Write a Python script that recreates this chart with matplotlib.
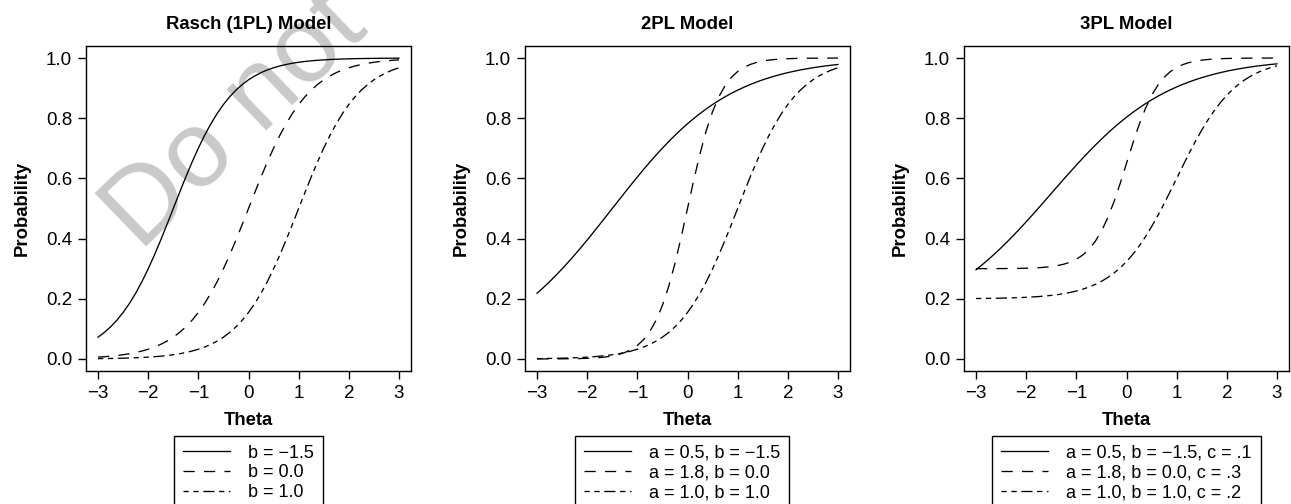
import matplotlib.pyplot as plt
from matplotlib.lines import Line2D

plt.rcParams['font.family'] = ['Liberation Sans', 'DejaVu Sans']
plt.rcParams['font.size'] = 13

# ability grid (theta) and curve values
theta = [-3.0, -2.875, -2.75, -2.625, -2.5, -2.375, -2.25, -2.125, -2.0, -1.875, -1.75, -1.625,
         -1.5, -1.375, -1.25, -1.125, -1.0, -0.875, -0.75, -0.625, -0.5, -0.375, -0.25, -0.125,
         0.0, 0.125, 0.25, 0.375, 0.5, 0.625, 0.75, 0.875, 1.0, 1.125, 1.25, 1.375,
         1.5, 1.625, 1.75, 1.875, 2.0, 2.125, 2.25, 2.375, 2.5, 2.625, 2.75, 2.875, 3.0]

# Rasch (1PL)
rasch_b_m15 = [0.0724, 0.0881, 0.1067, 0.1287, 0.1545, 0.1843, 0.2184, 0.2568, 0.2994, 0.3458,
               0.3953, 0.4471, 0.5000, 0.5529, 0.6047, 0.6542, 0.7006, 0.7432, 0.7816, 0.8157,
               0.8455, 0.8713, 0.8933, 0.9119, 0.9276, 0.9406, 0.9515, 0.9604, 0.9677, 0.9737,
               0.9786, 0.9827, 0.9859, 0.9886, 0.9908, 0.9925, 0.9939, 0.9951, 0.9960, 0.9968,
               0.9974, 0.9979, 0.9983, 0.9986, 0.9989, 0.9991, 0.9993, 0.9994, 0.9995]
rasch_b_0 = [0.0061, 0.0075, 0.0092, 0.0114, 0.0141, 0.0173, 0.0214, 0.0263, 0.0323, 0.0396,
             0.0485, 0.0594, 0.0724, 0.0881, 0.1067, 0.1287, 0.1545, 0.1843, 0.2184, 0.2568,
             0.2994, 0.3458, 0.3953, 0.4471, 0.5000, 0.5529, 0.6047, 0.6542, 0.7006, 0.7432,
             0.7816, 0.8157, 0.8455, 0.8713, 0.8933, 0.9119, 0.9276, 0.9406, 0.9515, 0.9604,
             0.9677, 0.9737, 0.9786, 0.9827, 0.9859, 0.9886, 0.9908, 0.9925, 0.9939]
rasch_b_1 = [0.0011, 0.0014, 0.0017, 0.0021, 0.0026, 0.0032, 0.0040, 0.0049, 0.0061, 0.0075,
             0.0092, 0.0114, 0.0141, 0.0173, 0.0214, 0.0263, 0.0323, 0.0396, 0.0485, 0.0594,
             0.0724, 0.0881, 0.1067, 0.1287, 0.1545, 0.1843, 0.2184, 0.2568, 0.2994, 0.3458,
             0.3953, 0.4471, 0.5000, 0.5529, 0.6047, 0.6542, 0.7006, 0.7432, 0.7816, 0.8157,
             0.8455, 0.8713, 0.8933, 0.9119, 0.9276, 0.9406, 0.9515, 0.9604, 0.9677]

# 2PL
twopl_1 = [0.2184, 0.2371, 0.2568, 0.2776, 0.2994, 0.3222, 0.3458, 0.3702, 0.3953, 0.4210,
           0.4471, 0.4735, 0.5000, 0.5265, 0.5529, 0.5790, 0.6047, 0.6298, 0.6542, 0.6778,
           0.7006, 0.7224, 0.7432, 0.7629, 0.7816, 0.7991, 0.8157, 0.8311, 0.8455, 0.8589,
           0.8713, 0.8828, 0.8933, 0.9030, 0.9119, 0.9201, 0.9276, 0.9344, 0.9406, 0.9463,
           0.9515, 0.9561, 0.9604, 0.9642, 0.9677, 0.9709, 0.9737, 0.9763, 0.9786]
twopl_2 = [0.0001, 0.0002, 0.0002, 0.0003, 0.0005, 0.0007, 0.0010, 0.0015, 0.0022, 0.0032,
           0.0047, 0.0069, 0.0100, 0.0147, 0.0213, 0.0310, 0.0448, 0.0643, 0.0916, 0.1287,
           0.1780, 0.2410, 0.3176, 0.4055, 0.5000, 0.5945, 0.6824, 0.7590, 0.8220, 0.8713,
           0.9084, 0.9357, 0.9552, 0.9690, 0.9787, 0.9853, 0.9900, 0.9931, 0.9953, 0.9968,
           0.9978, 0.9985, 0.9990, 0.9993, 0.9995, 0.9997, 0.9998, 0.9998, 0.9999]
twopl_3 = [0.0011, 0.0014, 0.0017, 0.0021, 0.0026, 0.0032, 0.0040, 0.0049, 0.0061, 0.0075,
           0.0092, 0.0114, 0.0141, 0.0173, 0.0214, 0.0263, 0.0323, 0.0396, 0.0485, 0.0594,
           0.0724, 0.0881, 0.1067, 0.1287, 0.1545, 0.1843, 0.2184, 0.2568, 0.2994, 0.3458,
           0.3953, 0.4471, 0.5000, 0.5529, 0.6047, 0.6542, 0.7006, 0.7432, 0.7816, 0.8157,
           0.8455, 0.8713, 0.8933, 0.9119, 0.9276, 0.9406, 0.9515, 0.9604, 0.9677]

# 3PL
threepl_1 = [0.2966, 0.3134, 0.3311, 0.3498, 0.3695, 0.3900, 0.4112, 0.4332, 0.4558, 0.4789,
             0.5024, 0.5262, 0.5500, 0.5739, 0.5976, 0.6211, 0.6442, 0.6668, 0.6888, 0.7100,
             0.7305, 0.7502, 0.7689, 0.7866, 0.8034, 0.8192, 0.8341, 0.8480, 0.8610, 0.8730,
             0.8842, 0.8945, 0.9040, 0.9127, 0.9207, 0.9281, 0.9348, 0.9410, 0.9465, 0.9517,
             0.9564, 0.9605, 0.9644, 0.9678, 0.9709, 0.9738, 0.9763, 0.9787, 0.9807]
threepl_2 = [0.3001, 0.3001, 0.3001, 0.3002, 0.3004, 0.3005, 0.3007, 0.3011, 0.3015, 0.3022,
             0.3033, 0.3048, 0.3070, 0.3103, 0.3149, 0.3217, 0.3314, 0.3450, 0.3641, 0.3901,
             0.4246, 0.4687, 0.5223, 0.5839, 0.6500, 0.7162, 0.7777, 0.8313, 0.8754, 0.9099,
             0.9359, 0.9550, 0.9686, 0.9783, 0.9851, 0.9897, 0.9930, 0.9952, 0.9967, 0.9978,
             0.9985, 0.9990, 0.9993, 0.9995, 0.9997, 0.9998, 0.9999, 0.9999, 0.9999]
threepl_3 = [0.2009, 0.2011, 0.2014, 0.2017, 0.2021, 0.2026, 0.2032, 0.2039, 0.2049, 0.2060,
             0.2074, 0.2091, 0.2113, 0.2138, 0.2171, 0.2210, 0.2258, 0.2317, 0.2388, 0.2475,
             0.2579, 0.2705, 0.2854, 0.3030, 0.3236, 0.3474, 0.3747, 0.4054, 0.4395, 0.4766,
             0.5162, 0.5577, 0.6000, 0.6423, 0.6838, 0.7234, 0.7605, 0.7946, 0.8253, 0.8526,
             0.8764, 0.8970, 0.9146, 0.9295, 0.9421, 0.9525, 0.9612, 0.9683, 0.9742]

titles = ['Rasch (1PL) Model', '2PL Model', '3PL Model']
panel_curves = [
    [rasch_b_m15, rasch_b_0, rasch_b_1],
    [twopl_1, twopl_2, twopl_3],
    [threepl_1, threepl_2, threepl_3],
]
panel_labels = [
    ['b = \u22121.5', 'b = 0.0', 'b = 1.0'],
    ['a = 0.5, b = \u22121.5', 'a = 1.8, b = 0.0', 'a = 1.0, b = 1.0'],
    ['a = 0.5, b = \u22121.5, c = .1', 'a = 1.8, b = 0.0, c = .3', 'a = 1.0, b = 1.0, c = .2'],
]

styles = ['-', (0, (8.5, 7)), (0, (4, 3.5, 4, 3.5, 8.5, 3.5))]

W, H = 1291, 504
fig = plt.figure(figsize=(W / 100, H / 100), dpi=100)

# watermark behind everything
fig.text(140 / W, 1 - 252 / H, 'Do not', fontsize=78, color='#c9c9c9',
         rotation=44, rotation_mode='anchor', ha='left', va='baseline', zorder=-5)

lefts = [86, 525, 964]
legend_shift = [0.0, -0.016, 0.0]
for k in range(3):
    ax = fig.add_axes([lefts[k] / W, (H - 371) / H, 325 / W, 325 / H])
    ax.patch.set_alpha(0)
    for y, ls in zip(panel_curves[k], styles):
        ax.plot(theta, y, color='black', linewidth=0.95, linestyle=ls)

    ax.set_xlim(-3.24, 3.24)
    ax.set_ylim(-0.04, 1.04)
    ax.set_xticks([-3, -2, -1, 0, 1, 2, 3])
    ax.set_yticks([0.0, 0.2, 0.4, 0.6, 0.8, 1.0])
    ax.set_yticklabels(['0.0', '0.2', '0.4', '0.6', '0.8', '1.0'])
    ax.tick_params(direction='out', length=6, width=1, labelsize=13.5, pad=4)
    for s in ax.spines.values():
        s.set_linewidth(1)
    ax.set_title(titles[k], fontsize=13.3, fontweight='bold', pad=12.5)
    ax.set_xlabel('Theta', fontsize=13.3, fontweight='bold', labelpad=7.5)
    ax.set_ylabel('Probability', fontsize=13.3, fontweight='bold', labelpad=11)

    handles = [Line2D([], [], color='black', linewidth=0.95, linestyle=ls) for ls in styles]
    leg = ax.legend(handles, panel_labels[k], loc='upper center',
                    bbox_to_anchor=(0.5 + legend_shift[k], -0.199), borderaxespad=0, fontsize=13,
                    fancybox=False, framealpha=1, edgecolor='black',
                    handlelength=2.6, handletextpad=1.0, labelspacing=0.15,
                    borderpad=0.5)
    leg.get_frame().set_linewidth(1)

fig.savefig('out.png', dpi=100)
